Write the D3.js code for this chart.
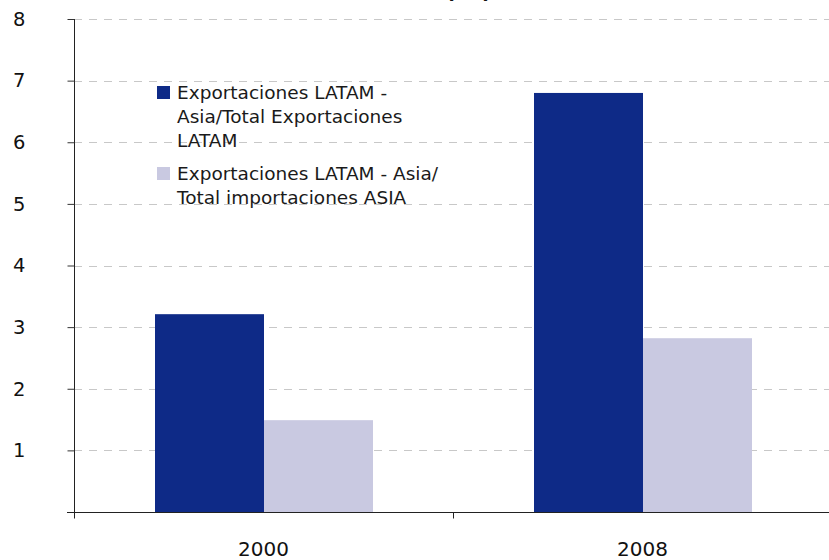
<!DOCTYPE html>
<html>
<head>
<meta charset="utf-8">
<script src="https://cdn.jsdelivr.net/npm/d3@7"></script>
<style>
  html, body { margin: 0; padding: 0; background: #fff; }
  svg { display: block; font-family: "DejaVu Sans", Verdana, sans-serif; }
</style>
</head>
<body>
<svg id="chart" width="829" height="560"></svg>
<script>
// Years on the category axis
const years = ["2000", "2008"];
// Series names (legend lines) and colours
const seriesNames = [
  ["Exportaciones LATAM -", "Asia/Total Exportaciones", "LATAM"],
  ["Exportaciones LATAM - Asia/", "Total importaciones ASIA"]
];
const seriesColors = ["#0e2a87", "#c9c9e1"];
// Percent values per year
const exportsShareLatam = [3.21, 6.80];
const importsShareAsia = [1.49, 2.82];
// Y axis ticks
const yTicks = [1, 2, 3, 4, 5, 6, 7, 8];

const svg = d3.select("#chart");
const plotLeft = 74, plotRight = 832, plotTop = 19, plotBottom = 512;

const x0 = d3.scaleBand().domain(years).range([plotLeft, plotRight]).padding(0);
const x1 = d3.scaleBand().domain([0, 1]).range([81, 299]).padding(0);
const y = d3.scaleLinear().domain([0, 8]).range([plotBottom, plotTop]);

// Title, sitting mostly above the top edge
svg.append("text")
  .attr("x", 470).attr("y", -2)
  .attr("text-anchor", "middle")
  .attr("font-weight", "bold")
  .attr("font-size", 21)
  .attr("letter-spacing", 3)
  .attr("fill", "#111")
  .text("(%)");

// Dashed gridlines
svg.append("g")
  .selectAll("line")
  .data(yTicks)
  .join("line")
  .attr("x1", plotLeft).attr("x2", 829)
  .attr("y1", d => Math.round(y(d)) + 0.5).attr("y2", d => Math.round(y(d)) + 0.5)
  .attr("stroke", "#c8c8c8")
  .attr("stroke-width", 1)
  .attr("stroke-dasharray", "8,7");

// Bars
const series = [exportsShareLatam, importsShareAsia];
const groups = svg.append("g")
  .selectAll("g")
  .data(years)
  .join("g")
  .attr("transform", d => `translate(${x0(d)},0)`);

groups.selectAll("rect")
  .data((d, i) => series.map((s, k) => ({ k, v: s[i] })))
  .join("rect")
  .attr("x", d => x1(d.k))
  .attr("width", x1.bandwidth())
  .attr("y", d => y(d.v))
  .attr("height", d => y(0) - y(d.v))
  .attr("fill", d => seriesColors[d.k]);

// Y axis
const yAxis = svg.append("g")
  .attr("transform", `translate(${plotLeft + 0.5},0)`)
  .call(d3.axisLeft(y).tickValues(yTicks).tickSize(7).tickPadding(42).tickFormat(d3.format("d")))
  .call(g => g.select(".domain").attr("d", `M0,${plotBottom}V${plotTop}`).attr("stroke", "#222"));
yAxis.selectAll(".tick line").attr("stroke", "#333");
yAxis.selectAll(".tick text")
  .attr("font-size", 19.5)
  .attr("fill", "#111")
  .attr("font-family", "DejaVu Sans, Verdana, sans-serif");

// X axis
const xAxis = svg.append("g")
  .attr("transform", `translate(0,${plotBottom + 0.5})`);
xAxis.append("line")
  .attr("x1", plotLeft - 7).attr("x2", 829)
  .attr("stroke", "#222");
xAxis.selectAll(".edge")
  .data(years.concat(["end"]))
  .join("line")
  .attr("class", "edge")
  .attr("x1", (d, i) => Math.round(i < years.length ? x0(d) : plotRight) + 0.5)
  .attr("x2", (d, i) => Math.round(i < years.length ? x0(d) : plotRight) + 0.5)
  .attr("y1", 0).attr("y2", 6)
  .attr("stroke", "#222");
xAxis.selectAll(".lbl")
  .data(years)
  .join("text")
  .attr("class", "lbl")
  .attr("x", d => x0(d) + x0.bandwidth() / 2)
  .attr("y", 43.5)
  .attr("text-anchor", "middle")
  .attr("font-size", 20)
  .attr("fill", "#111")
  .text(d => d);

// Legend
const legend = svg.append("g");
const entryTops = [86, 167];
seriesNames.forEach((lines, k) => {
  legend.append("rect")
    .attr("x", 157).attr("y", entryTops[k])
    .attr("width", 13).attr("height", 13)
    .attr("fill", seriesColors[k]);
  const t = legend.append("text")
    .attr("x", 177)
    .attr("y", entryTops[k] + 13)
    .attr("font-size", 18.5)
    .attr("fill", "#1a1a1a");
  lines.forEach((ln, j) => {
    t.append("tspan").attr("x", 177).attr("dy", j === 0 ? 0 : 24).text(ln);
  });
});
</script>
</body>
</html>
